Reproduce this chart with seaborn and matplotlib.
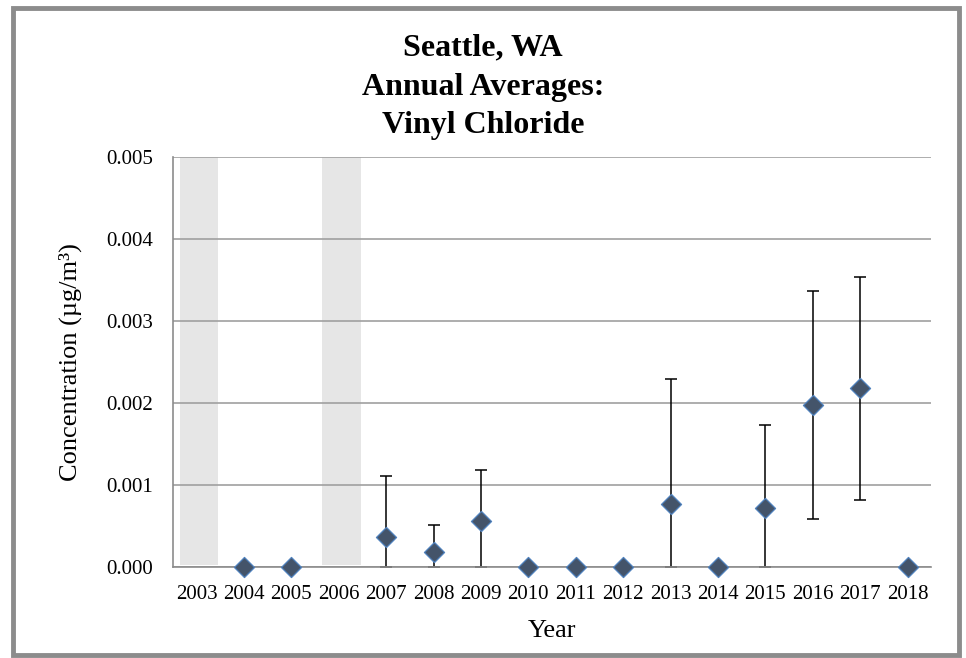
import numpy as np
import pandas as pd
import matplotlib
matplotlib.use("Agg")
import matplotlib.pyplot as plt
import seaborn as sns
from matplotlib.patches import Rectangle

# Annual averages (µg/m3); NaN = no data year (shaded)
years = [2003, 2004, 2005, 2006, 2007, 2008, 2009, 2010,
         2011, 2012, 2013, 2014, 2015, 2016, 2017, 2018]
means = [np.nan, 0.0, 0.0, np.nan, 0.00037, 0.00018, 0.00056, 0.0,
         0.0, 0.0, 0.00077, 0.0, 0.00072, 0.00198, 0.00218, 0.0]
upper = [np.nan, 0.0, 0.0, np.nan, 0.00111, 0.00052, 0.00119, 0.0,
         0.0, 0.0, 0.00230, 0.0, 0.00173, 0.00337, 0.00354, 0.0]
lower = [np.nan, 0.0, 0.0, np.nan, 0.0, 0.0, 0.0, 0.0,
         0.0, 0.0, 0.0, 0.0, 0.0, 0.00059, 0.00082, 0.0]
no_data_years = [2003, 2006]

df = pd.DataFrame({"Year": years, "Mean": means, "Upper": upper, "Lower": lower})
df["pos"] = np.arange(len(df))

sns.set_style("white")
plt.rcParams["font.family"] = ["Liberation Serif", "DejaVu Serif"]
plt.rcParams["text.color"] = "black"
plt.rcParams["axes.labelcolor"] = "black"

fig = plt.figure(figsize=(9.66, 6.58), dpi=100)
ax = fig.add_axes([0.179, 0.138, 0.785, 0.623])

# shaded no-data columns
ymax = 0.005
for yr in no_data_years:
    p = df.loc[df["Year"] == yr, "pos"].iloc[0]
    ax.bar(p + 0.05, ymax - 0.00003, bottom=0.00003, width=0.82, color="#E6E6E6",
           zorder=0.5, linewidth=0)

# error bars
valid = df.dropna(subset=["Mean"])
has_err = valid[(valid["Upper"] - valid["Lower"]) > 0]
ax.errorbar(has_err["pos"], has_err["Mean"],
            yerr=[has_err["Mean"] - has_err["Lower"], has_err["Upper"] - has_err["Mean"]],
            fmt="none", ecolor="black", elinewidth=1.1, capsize=4.5, capthick=1.1, zorder=2)

# markers
sns.scatterplot(data=valid, x="pos", y="Mean", marker="D", s=105,
                color="#44546A", edgecolor="#4F81BD", linewidth=0.9,
                ax=ax, zorder=3, clip_on=False, legend=False)

ax.set_xlim(-0.5, len(years) - 0.5)
ax.set_ylim(0, ymax)
yt = [0, 0.001, 0.002, 0.003, 0.004, 0.005]
ax.set_yticks(yt)
ax.set_yticklabels([f"{v:.3f}" for v in yt])
ax.set_xticks(df["pos"])
ax.set_xticklabels([str(y) for y in years])
ax.set_xticks(np.arange(-0.5, len(years)), minor=True)
ax.tick_params(axis="x", which="major", length=0, pad=13, labelsize=15, labelcolor="black")
ax.tick_params(axis="x", which="minor", length=6, color="#8C8C8C", width=1, direction="out")
ax.tick_params(axis="y", which="major", length=6, color="#8C8C8C", width=1,
               direction="out", pad=8, labelsize=15, labelcolor="black")

ax.yaxis.grid(True, color="#A0A0A0", linewidth=1.2)
ax.set_axisbelow(True)
for s in ["top", "right"]:
    ax.spines[s].set_visible(False)
for s in ["left", "bottom"]:
    ax.spines[s].set_color("#8C8C8C")
    ax.spines[s].set_linewidth(1.2)

ax.set_xlabel("Year", fontsize=19, labelpad=11)
ax.set_ylabel("Concentration (µg/m³)", fontsize=19, labelpad=18)

fig.text(0.5, 1 - 87 / 658, "Seattle, WA\nAnnual Averages:\nVinyl Chloride", ha="center", va="center",
         fontsize=23, fontweight="bold", linespacing=1.45)

# outer frame
fig.patches.append(Rectangle((13 / 966, 3 / 658), 946 / 966, 647 / 658, transform=fig.transFigure,
                             fill=False, edgecolor="#8C8C8C", linewidth=3.5, zorder=10))

fig.savefig("out.png", dpi=100)
